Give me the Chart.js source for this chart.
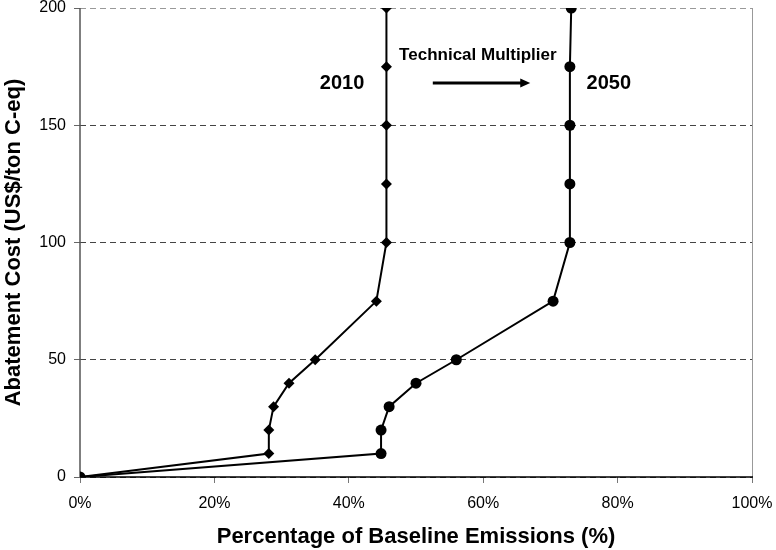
<!DOCTYPE html>
<html>
<head>
<meta charset="utf-8">
<script src="https://cdn.jsdelivr.net/npm/chart.js@4"></script>
<style>
  html, body { margin: 0; padding: 0; background: #fff; }
  #wrap { width: 776px; height: 550px; }
</style>
</head>
<body>
<div id="wrap"><canvas id="mac-chart"></canvas></div>
<script>
// abatement cost curves, x = % of baseline emissions, y = US$/ton C-eq
const costLevels = [0, 10, 20, 30, 40, 50, 75, 100, 125, 150, 175, 200];
const pct2010 = [0, 28.1, 28.1, 28.8, 31.1, 35.0, 44.1, 45.6, 45.6, 45.6, 45.6, 45.6];
const pct2050 = [0, 44.8, 44.8, 46.0, 50.0, 56.0, 70.4, 72.9, 72.9, 72.9, 72.9, 73.1];
const xTicks = [0, 20, 40, 60, 80, 100];
const yTicks = [0, 50, 100, 150, 200];

const FONT = '"Liberation Sans", Arial, sans-serif';

function toPoints(xs) {
    return xs.map((x, i) => ({ x: x, y: costLevels[i] }));
}

// axis lines, right border, labels and arrow
const notes = {
    id: 'notes',
    beforeDatasetsDraw(chart) {
        const ctx = chart.ctx;
        const area = chart.chartArea;
        ctx.save();
        ctx.lineWidth = 1;
        ctx.strokeStyle = '#999';
        ctx.beginPath();
        ctx.moveTo(area.right + 0.5, area.top);
        ctx.lineTo(area.right + 0.5, area.bottom);
        ctx.stroke();
        ctx.lineWidth = 1.5;
        ctx.strokeStyle = '#555';
        ctx.beginPath();
        ctx.moveTo(area.left, area.top);
        ctx.lineTo(area.left, area.bottom);
        ctx.stroke();
        ctx.strokeStyle = '#000';
        ctx.beginPath();
        ctx.moveTo(area.left, area.bottom);
        ctx.lineTo(area.right + 1, area.bottom);
        ctx.stroke();
        ctx.restore();
    },
    afterDraw(chart) {
        const ctx = chart.ctx;
        const xs = chart.scales.x, ys = chart.scales.y;
        ctx.save();
        ctx.fillStyle = '#000';
        ctx.textAlign = 'center';
        ctx.textBaseline = 'middle';
        ctx.font = 'bold 20px ' + FONT;
        ctx.fillText('2010', xs.getPixelForValue(39.0), ys.getPixelForValue(168));
        ctx.fillText('2050', xs.getPixelForValue(78.7), ys.getPixelForValue(168));
        ctx.font = 'bold 17px ' + FONT;
        ctx.fillText('Technical Multiplier', xs.getPixelForValue(59.2), ys.getPixelForValue(180));

        const x1 = xs.getPixelForValue(52.5), x2 = xs.getPixelForValue(67.0);
        const ay = ys.getPixelForValue(168);
        ctx.lineWidth = 3;
        ctx.strokeStyle = '#000';
        ctx.beginPath();
        ctx.moveTo(x1, ay);
        ctx.lineTo(x2 - 8, ay);
        ctx.stroke();
        ctx.beginPath();
        ctx.moveTo(x2, ay);
        ctx.lineTo(x2 - 10, ay - 4.5);
        ctx.lineTo(x2 - 10, ay + 4.5);
        ctx.closePath();
        ctx.fill();
        ctx.restore();
    }
};

const ctx = document.getElementById('mac-chart').getContext('2d');
new Chart(ctx, {
    type: 'scatter',
    data: {
        datasets: [{
            label: '2010',
            data: toPoints(pct2010),
            showLine: true,
            borderColor: '#000',
            backgroundColor: '#000',
            borderWidth: 2,
            pointStyle: 'rectRot',
            pointRadius: 5.5,
            pointBorderWidth: 0
        }, {
            label: '2050',
            data: toPoints(pct2050),
            showLine: true,
            borderColor: '#000',
            backgroundColor: '#000',
            borderWidth: 2,
            pointStyle: 'circle',
            pointRadius: 5.5,
            pointBorderWidth: 0
        }]
    },
    options: {
        responsive: true,
        maintainAspectRatio: false,
        animation: false,
        layout: { padding: { top: 8, right: 24, left: 0, bottom: 0 } },
        plugins: { legend: { display: false }, tooltip: { enabled: false } },
        scales: {
            x: {
                type: 'linear',
                min: 0,
                max: 100,
                afterBuildTicks: (s) => { s.ticks = xTicks.map(v => ({ value: v })); },
                afterFit: (s) => { s.height = 73; s.paddingLeft = 0; s.paddingRight = 0; },
                border: { display: false },
                grid: { drawOnChartArea: false, drawTicks: true, tickLength: 6, color: '#777' },
                ticks: {
                    color: '#000',
                    font: { family: FONT, size: 16 },
                    padding: 11,
                    callback: (v) => v + '%'
                },
                title: {
                    display: true,
                    text: 'Percentage of Baseline Emissions (%)',
                    color: '#000',
                    font: { family: FONT, size: 22, weight: 'bold' },
                    padding: { top: 0, bottom: 0 }
                }
            },
            y: {
                type: 'linear',
                min: 0,
                max: 200,
                afterBuildTicks: (s) => { s.ticks = yTicks.map(v => ({ value: v })); },
                afterFit: (s) => { s.width = 80; s.paddingTop = 0; s.paddingBottom = 0; },
                border: { display: false, dash: [6, 4] },
                grid: {
                    color: (c) => c.tick && c.tick.value === 200 ? '#999' : '#444',
                    lineWidth: 1,
                    tickLength: 6,
                    tickColor: '#666',
                    tickBorderDash: []
                },
                ticks: {
                    color: '#000',
                    font: { family: FONT, size: 16 },
                    padding: 8
                },
                title: {
                    display: true,
                    text: 'Abatement Cost (US$/ton C-eq)',
                    color: '#000',
                    font: { family: FONT, size: 22, weight: 'bold' },
                    padding: { top: 1, bottom: 0 }
                }
            }
        }
    },
    plugins: [notes]
});
</script>
</body>
</html>
